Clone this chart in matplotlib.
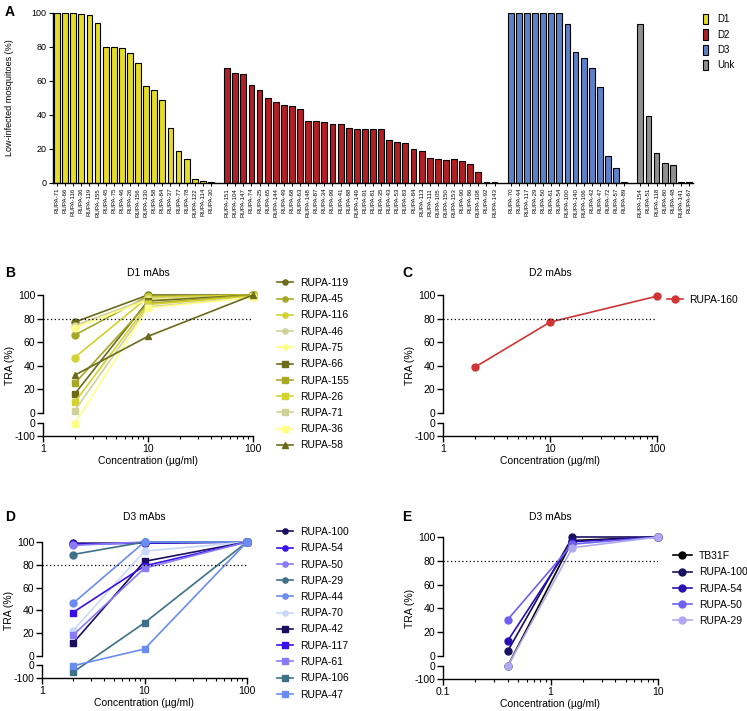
import numpy as np
import matplotlib
matplotlib.use("Agg")
import matplotlib.pyplot as plt
from matplotlib.patches import Patch
from matplotlib.ticker import FixedLocator, LogLocator, NullFormatter

plt.rcParams["font.family"] = ["Liberation Sans", "DejaVu Sans"]
plt.rcParams["axes.linewidth"] = 1.0

W, H = 747, 711

# ---- panel A data ----
d1_names = ["RUPA-71", "RUPA-66", "RUPA-116", "RUPA-36", "RUPA-119", "RUPA-155", "RUPA-45", "RUPA-75",
            "RUPA-46", "RUPA-26", "RUPA-156", "RUPA-130", "RUPA-58", "RUPA-84", "RUPA-37", "RUPA-77",
            "RUPA-78", "RUPA-122", "RUPA-114", "RUPA-30"]
d1_vals = [100, 100, 100, 99.6, 98.8, 93.9, 80.1, 79.9, 79.5, 76.6, 70.7, 56.9, 54.9, 49.0, 32.3, 18.7,
           14.2, 2.2, 1.2, 0.8]
d2_names = ["RUPA-151", "RUPA-104", "RUPA-147", "RUPA-74", "RUPA-25", "RUPA-65", "RUPA-144", "RUPA-49",
            "RUPA-68", "RUPA-63", "RUPA-148", "RUPA-87", "RUPA-34", "RUPA-99", "RUPA-41", "RUPA-88",
            "RUPA-149", "RUPA-91", "RUPA-81", "RUPA-35", "RUPA-43", "RUPA-53", "RUPA-83", "RUPA-84",
            "RUPA-113", "RUPA-111", "RUPA-105", "RUPA-150", "RUPA-153", "RUPA-90", "RUPA-86", "RUPA-108",
            "RUPA-92", "RUPA-143"]
d2_vals = [67.5, 65.0, 64.4, 57.5, 54.5, 50.2, 47.4, 45.9, 45.3, 43.7, 36.4, 36.4, 36.0, 35.0, 34.6, 32.5,
           31.9, 31.5, 31.5, 31.5, 25.2, 24.4, 23.6, 20.1, 19.1, 14.8, 14.4, 13.8, 14.2, 13.0, 11.2, 6.3,
           0.6, 0.6]
d3_names = ["RUPA-70", "RUPA-44", "RUPA-117", "RUPA-29", "RUPA-50", "RUPA-61", "RUPA-54", "RUPA-100",
            "RUPA-140", "RUPA-106", "RUPA-42", "RUPA-47", "RUPA-72", "RUPA-57", "RUPA-89"]
d3_vals = [100, 100, 100, 100, 100, 100, 100, 93.5, 76.8, 73.4, 67.9, 56.7, 15.7, 8.9, 0.6]
unk_names = ["RUPA-154", "RUPA-51", "RUPA-118", "RUPA-80", "RUPA-48", "RUPA-141", "RUPA-67"]
unk_vals = [93.5, 39.4, 17.9, 11.8, 10.4, 0.6, 0.6]
group_labels = ["D1", "D2", "D3", "Unk"]
group_colors = ["#e5dc28", "#b21f24", "#5b82c9", "#8f8f8f"]

# ---- panel B data (D1 mAbs) ----
conc_b = [2, 10, 100]
b_names = ["RUPA-119", "RUPA-45", "RUPA-116", "RUPA-46", "RUPA-75", "RUPA-66", "RUPA-155", "RUPA-26",
           "RUPA-71", "RUPA-36", "RUPA-58"]
b_vals = [[77, 100, 100], [66, 99, 100], [47, 98, 100], [74, 97, 99], [72, 96, 99], [16, 95, 100],
          [25, 93, 100], [9, 92, 99], [2, 90, 98], [-5, 89, 98], [32, 65, 100]]
b_colors = ["#6b6b1a", "#a8a828", "#d2d230", "#d0d098", "#ffff88"] * 2 + ["#6b6b1a"]
b_markers = ["o"] * 5 + ["s"] * 5 + ["^"]

# ---- panel C data (D2 mAbs) ----
c_names = ["RUPA-160"]
c_vals = [[39, 77, 99]]

# ---- panel D data (D3 mAbs) ----
d_names = ["RUPA-100", "RUPA-54", "RUPA-50", "RUPA-29", "RUPA-44", "RUPA-70", "RUPA-42", "RUPA-117",
           "RUPA-61", "RUPA-106", "RUPA-47"]
d_vals = [[99, 99, 100], [98, 99, 100], [97, 100, 100], [89, 100, 100], [46, 100, 100], [22, 92, 100],
          [11, 83, 100], [38, 79, 100], [18, 77, 100], [-55, 29, 100], [-3, 6, 100]]
d_colors = ["#1a0f5e", "#3a10e8", "#8a7af8", "#3e7088", "#6b8cf0", "#c8d8f8"] + \
           ["#1a0f5e", "#3a10e8", "#8a7af8", "#3e7088", "#6b8cf0"]
d_markers = ["o"] * 6 + ["s"] * 5

# ---- panel E data (D3 mAbs, lower range) ----
conc_e = [0.4, 1.6, 10]
e_names = ["TB31F", "RUPA-100", "RUPA-54", "RUPA-50", "RUPA-29"]
e_vals = [[-1, 97, 100], [4, 100, 100], [12.6, 96, 100], [30.5, 94, 100], [-2, 91, 100]]
e_colors = ["#000000", "#1a1060", "#2a10b0", "#7060f0", "#b0a8f0"]

GAP, K = 8.5, 0.11


def fwd(v):
    v = np.asarray(v, dtype=float)
    return np.where(v >= 0, v, -GAP + v * K)


def inv(t):
    t = np.asarray(t, dtype=float)
    return np.where(t >= 0, t, np.where(t > -GAP, 0.0, (t + GAP) / K))


def px_axes(fig, x0, y0, x1, y1):
    return fig.add_axes([x0 / W, 1 - y1 / H, (x1 - x0) / W, (y1 - y0) / H])


def set_ylabel_px(ax, text, x_px, size):
    # x_px is where the right side of the rotated label sits
    bb = ax.get_position()
    ax.set_ylabel(text, fontsize=size)
    ax.yaxis.set_label_coords((x_px / W - bb.x0) / bb.width, 0.5)


def line_panel(ax, xs, names, vals, colors, markers, xlim, xlabels, title, title_y):
    ax.set_xscale("log")
    ax.set_yscale("function", functions=(fwd, inv))
    for name, ys, col, mk in zip(names, vals, colors, markers):
        ax.plot(xs, ys, marker=mk, color=col, lw=1.2, ms=5, clip_on=False, label=name)
    ax.set_xlim(*xlim)
    ax.set_ylim(-100, 100)
    ax.axhline(80, color="k", lw=0.9, ls=(0, (1, 2)))
    ax.spines["top"].set_visible(False)
    ax.spines["right"].set_visible(False)
    ax.spines["left"].set_bounds(0, 100)
    ax.plot([0, 0], [-100, -1e-6], transform=ax.get_yaxis_transform(), color="k", lw=1.0,
            clip_on=False)
    ax.yaxis.set_major_locator(FixedLocator([-100, -1e-6, 0, 20, 40, 60, 80, 100]))
    ax.set_yticklabels(["-100", "0", "0", "20", "40", "60", "80", "100"])
    ax.xaxis.set_major_locator(FixedLocator(xlabels))
    ax.set_xticklabels([("%g" % x) for x in xlabels])
    ax.xaxis.set_minor_locator(LogLocator(base=10, subs=np.arange(2, 10)))
    ax.xaxis.set_minor_formatter(NullFormatter())
    ax.tick_params(labelsize=7.5, length=4, width=1.0, pad=1.5)
    ax.tick_params(which="minor", length=2, width=0.8)
    ax.set_xlabel("Concentration (\u00b5g/ml)", fontsize=7.5, labelpad=2)
    bb = ax.get_position()
    set_ylabel_px(ax, "TRA (%)", bb.x0 * W - 28, 7.5)
    fig.text((bb.x0 + bb.x1) / 2, 1 - title_y / H, title, fontsize=7.5, ha="center", va="center")


fig = plt.figure(figsize=(W / 100, H / 100), dpi=100)

# ---- panel A ----
axA = px_axes(fig, 53, 13, 693, 183)
groups = [(d1_names, d1_vals), (d2_names, d2_vals), (d3_names, d3_vals), (unk_names, unk_vals)]
pos, labels = [], []
slot = 0
for gi, (names, vals) in enumerate(groups):
    xs = np.arange(slot, slot + len(vals))
    axA.bar(xs, vals, width=0.72, color=group_colors[gi], edgecolor="k", linewidth=0.8)
    pos.extend(xs)
    labels.extend(names)
    slot += len(vals) + 1
axA.set_xlim(-0.5, slot - 1.5)
axA.set_ylim(0, 100)
axA.set_xticks(pos)
axA.set_xticklabels(labels, rotation=90, fontsize=4.4)
axA.set_yticks([0, 20, 40, 60, 80, 100])
axA.tick_params(axis="y", labelsize=6.5, length=3, pad=1.5)
axA.tick_params(axis="x", length=2.5, width=0.7, pad=1)
axA.spines["top"].set_visible(False)
axA.spines["right"].set_visible(False)
set_ylabel_px(axA, "Low-infected mosquitoes (%)", 14, 6.5)
handles = [Patch(facecolor=c, edgecolor="k", linewidth=0.8, label=l) for c, l in zip(group_colors, group_labels)]
fig.legend(handles=handles, loc="upper left", bbox_to_anchor=(703 / W, 1 - 14 / H), frameon=False,
           fontsize=7, handlelength=0.55, handleheight=1.25, handletextpad=0.9, labelspacing=0.5,
           borderpad=0, borderaxespad=0)

# ---- panel B ----
axB = px_axes(fig, 43, 295, 253, 436)
line_panel(axB, conc_b, b_names, b_vals, b_colors, b_markers, (1, 100), [1, 10, 100], "D1 mAbs", 273)
fig.legend(*axB.get_legend_handles_labels(), loc="upper left", bbox_to_anchor=(277 / W, 1 - 278 / H),
           frameon=False, fontsize=7.5, handlelength=1.5, handletextpad=0.7, labelspacing=0.6,
           markerscale=0.75, borderpad=0, borderaxespad=0)

# ---- panel C ----
axC = px_axes(fig, 443, 295, 657, 436)
line_panel(axC, conc_b, c_names, c_vals, ["#d03434"], ["o"], (1, 100), [1, 10, 100], "D2 mAbs", 273)
fig.legend(*axC.get_legend_handles_labels(), loc="upper left", bbox_to_anchor=(667 / W, 1 - 295 / H),
           frameon=False, fontsize=7.5, handlelength=1.5, handletextpad=0.6,
           borderpad=0, borderaxespad=0)

# ---- panel D ----
axD = px_axes(fig, 42, 542, 247, 678)
line_panel(axD, conc_b, d_names, d_vals, d_colors, d_markers, (1, 100), [1, 10, 100], "D3 mAbs", 517)
fig.legend(*axD.get_legend_handles_labels(), loc="upper left", bbox_to_anchor=(277 / W, 1 - 527 / H),
           frameon=False, fontsize=7.5, handlelength=1.5, handletextpad=0.7, labelspacing=0.6,
           markerscale=0.75, borderpad=0, borderaxespad=0)

# ---- panel E ----
axE = px_axes(fig, 443, 537, 658, 679)
line_panel(axE, conc_e, e_names, e_vals, e_colors, ["o"] * 5, (0.1, 10), [0.1, 1, 10], "D3 mAbs", 517)
fig.legend(*axE.get_legend_handles_labels(), loc="upper left", bbox_to_anchor=(673 / W, 1 - 551 / H),
           frameon=False, fontsize=7.5, handlelength=1.8, handletextpad=0.7, labelspacing=0.6,
           borderpad=0, borderaxespad=0)

# panel letters
for letter, x, y in [("A", 5, 12), ("B", 5, 273), ("C", 402, 273), ("D", 5, 517), ("E", 402, 517)]:
    fig.text(x / W, 1 - y / H, letter, fontsize=10, fontweight="bold", va="center", ha="left")

fig.savefig("out.png", dpi=100)
